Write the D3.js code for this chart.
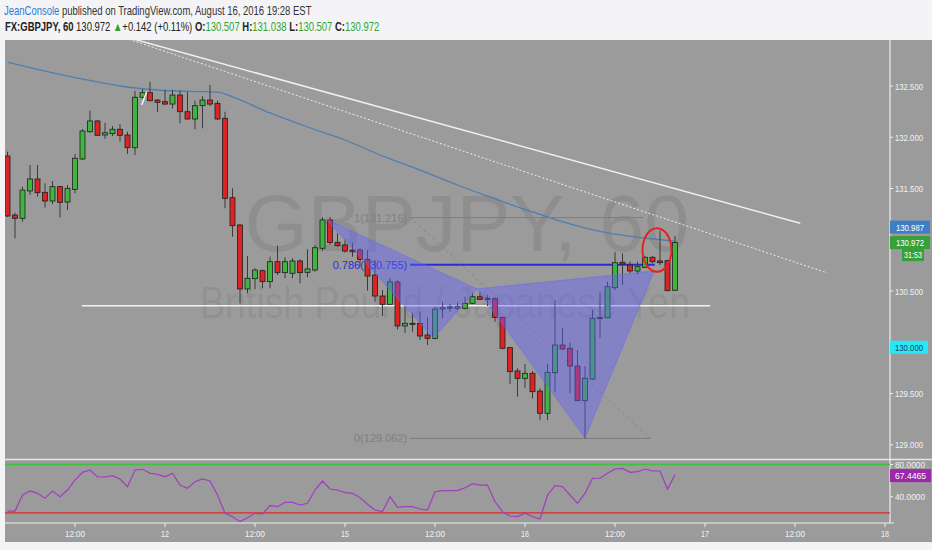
<!DOCTYPE html>
<html><head><meta charset="utf-8">
<script src="https://cdn.jsdelivr.net/npm/d3@7"></script>
<style>body{margin:0;background:#fff;} svg{display:block;font-family:"Liberation Sans",Arial,sans-serif;}</style>
</head><body><svg id="c" width="932" height="550"></svg>
<script>
// ---------- DATA ----------
const opens=[131.817,131.241,131.209,131.476,131.593,131.463,131.378,131.518,131.368,131.492,
131.788,132.054,132.159,132.022,132.035,132.078,132.022,131.898,132.390,132.435,
132.363,132.347,132.324,132.412,132.249,132.178,132.308,132.363,132.331,132.185,
131.410,131.144,130.520,130.620,130.698,130.591,130.786,130.679,130.673,130.793,
130.682,130.705,130.917,131.193,130.975,130.949,130.900,130.900,130.809,130.656,
130.451,130.370,130.588,130.159,130.185,130.185,130.071,130.038,130.324,130.334,
130.331,130.331,130.380,130.444,130.429,130.425,130.243,129.947,129.720,129.648,
129.697,129.524,129.307,129.703,129.973,129.941,129.768,129.430,129.641,130.230,
130.239,130.532,130.780,130.754,130.695,130.731,130.829,130.793,130.796,130.507];
const highs=[131.859,131.264,131.518,131.729,131.729,131.551,131.573,131.524,131.534,131.837,
132.080,132.259,132.168,132.142,132.110,132.126,132.054,132.454,132.468,132.542,
132.373,132.461,132.461,132.454,132.444,132.357,132.402,132.510,132.357,132.249,
131.502,131.154,130.841,130.721,130.710,130.835,130.942,130.829,130.819,130.809,
130.907,130.949,131.219,131.222,131.063,131.004,130.965,130.917,130.900,130.802,
130.510,130.624,130.607,130.347,130.288,130.298,130.243,130.347,130.396,130.373,
130.386,130.444,130.483,130.493,130.461,130.439,130.251,129.957,129.746,129.788,
129.720,129.551,129.788,130.412,130.136,129.996,129.924,129.768,130.315,130.493,
130.591,130.878,130.868,130.786,130.786,130.842,130.841,131.090,130.803,131.038];
const lows=[131.222,131.014,131.176,131.437,131.420,131.313,131.349,131.219,131.290,131.453,
131.778,132.044,132.012,131.986,132.012,131.957,131.837,131.827,132.380,132.349,
132.249,132.315,132.282,132.136,132.173,132.078,132.087,132.305,132.168,131.307,
131.030,130.380,130.478,130.517,130.526,130.526,130.656,130.624,130.624,130.575,
130.634,130.688,130.893,130.949,130.932,130.874,130.835,130.737,130.503,130.396,
130.256,130.368,130.126,130.093,130.103,130.022,129.973,130.029,130.234,130.298,
130.315,130.321,130.373,130.412,130.354,130.200,129.931,129.593,129.469,129.551,
129.453,129.241,129.241,129.518,129.924,129.502,129.427,129.062,129.632,130.038,
130.235,130.510,130.559,130.673,130.663,130.724,130.770,130.754,130.500,130.507];
const closes=[131.232,131.209,131.485,131.593,131.459,131.378,131.518,131.365,131.502,131.795,
132.061,132.159,132.019,132.044,132.078,132.019,131.898,132.390,132.435,132.357,
132.341,132.324,132.412,132.249,132.178,132.308,132.363,132.324,132.178,131.404,
131.137,130.520,130.624,130.705,130.591,130.786,130.679,130.786,130.793,130.679,
130.715,130.922,131.193,130.973,130.942,130.890,130.883,130.809,130.646,130.451,
130.370,130.588,130.159,130.185,130.175,130.061,130.038,130.324,130.337,130.344,
130.347,130.380,130.444,130.419,130.419,130.243,129.941,129.713,129.648,129.697,
129.518,129.307,129.707,129.973,129.934,129.768,129.430,129.648,130.234,130.243,
130.542,130.776,130.763,130.695,130.737,130.829,130.786,130.776,130.503,130.972];
// moving average (read at selected bars)
const maBars=[0,5,10,15,20,25,28,30,35,40,45,50,55,60,65,70,75,80,85,89];
const maVals=[132.734,132.646,132.568,132.500,132.461,132.446,132.441,132.393,132.237,132.100,
131.973,131.817,131.680,131.534,131.398,131.271,131.154,131.066,131.017,130.987];
// RSI per bar
const rsiVals=[22.2,22.2,42.1,47.1,44.2,38.0,47.1,40.0,48.3,60.7,
70.3,73.2,64.5,64.5,66.1,62.0,52.4,73.2,74.0,69.1,
67.8,64.8,69.1,54.5,50.4,58.6,62.0,59.5,42.1,19.4,
15.2,9.0,13.9,19.4,18.6,28.8,27.6,33.0,33.0,29.7,
31.8,48.3,59.5,49.6,48.3,45.0,44.2,38.8,30.6,23.5,
21.4,40.0,26.8,27.6,27.6,24.7,23.5,46.2,47.5,47.5,
47.5,51.2,56.2,54.5,54.5,33.8,21.4,16.0,15.2,19.4,
15.2,12.3,42.1,53.7,52.4,42.1,31.8,44.2,62.9,62.9,
69.1,74.4,75.2,70.3,71.1,74.4,71.9,71.9,49.6,67.45];
const rsiLevels=[80,20];
const rsiTicks=[80,40];
// axes
const timeTickBars=[9,21,33,45,57,69,81,93,105,117];
const timeTickLabels=["12:00","12","12:00","15","12:00","16","12:00","17","12:00","18"];
const priceTicks=[132.5,132.0,131.5,130.5,129.5,129.0];
// drawings (bar index, price)
const harmonicXAB=[[42.5,131.20],[56.8,130.04],[62.6,130.52]];
const harmonicBCD=[[62.6,130.52],[77.0,129.066],[86.2,130.695]];
const fibLevels=[131.216,130.755,129.062];
const fibLabels=["1(131.216)","0.786(130.755)","0(129.062)"];
const fibStartBar=53.7, fibEndBars=[84.7,86.3,85.7];
const supportLevel=130.357, supportBars=[9.9,93.7];
const trendSolid=[[16.3,132.968],[105.7,131.161]];
const trendDotted=[[15.67,132.968],[109.3,130.676]];
const tinyLine=[[17.9,132.315],[18.56,132.445]];
const circleCenter=[86.6,130.90];
const lastPrice=130.972, lastMA=130.987, lastRSI=67.4465, alertPrice=130.000;

// ---------- SCALES ----------
const svg=d3.select("#c");
const W=932,H=550, plotR=890, topY=40, paneSep=459.5, rsiBottom=523;
const x=d3.scaleLinear().domain([0,117]).range([7.5,885]);
const y=d3.scaleLinear().domain([129,132.5]).range([444.75,86]);
const yr=d3.scaleLinear().domain([20,80]).range([512.8,464.5]);
const BG="#9b9b9b";

svg.append("rect").attr("width",W).attr("height",H).attr("fill","#f4f4f6");
svg.append("rect").attr("x",5).attr("y",topY).attr("width",W-5).attr("height",542-topY).attr("fill",BG);

const defs=svg.append("defs");
defs.append("clipPath").attr("id","mainClip").append("rect").attr("x",5).attr("y",topY).attr("width",plotR-5).attr("height",paneSep-topY);
defs.append("clipPath").attr("id","rsiClip").append("rect").attr("x",5).attr("y",paneSep).attr("width",plotR-5).attr("height",rsiBottom-paneSep);

const main=svg.append("g").attr("clip-path","url(#mainClip)");

main.append("text").attr("x",467).attr("y",251).attr("text-anchor","middle")
  .attr("font-size",80).attr("fill","rgba(0,0,0,0.08)").attr("textLength",445).attr("lengthAdjust","spacingAndGlyphs")
  .text("GBPJPY, 60");
main.append("text").attr("x",445).attr("y",318).attr("text-anchor","middle")
  .attr("font-size",44).attr("fill","rgba(0,0,0,0.08)").attr("textLength",490).attr("lengthAdjust","spacingAndGlyphs")
  .text("British Pound / Japanese Yen");

main.append("path").datum(maBars.map((b,k)=>[b,maVals[k]]))
  .attr("d",d3.line().x(d=>x(d[0])).y(d=>y(d[1])).curve(d3.curveMonotoneX))
  .attr("fill","none").attr("stroke","#4f7fae").attr("stroke-width",1.3);

const fibColors=["#7d7d7d","#2b2bd8","#7d7d7d"];
fibLevels.forEach((lv,k)=>{
  main.append("line").attr("x1",x(fibStartBar)).attr("x2",x(fibEndBars[k])).attr("y1",y(lv)).attr("y2",y(lv))
    .attr("stroke",fibColors[k]).attr("stroke-width",k===1?2:1);
  main.append("text").attr("x",x(fibStartBar)-3).attr("y",y(lv)+4).attr("text-anchor","end")
    .attr("font-size",11).attr("fill",k===1?"#2b2bd8":"#808080").text(fibLabels[k]);
});
main.append("line").attr("x1",x(fibStartBar)).attr("y1",y(fibLevels[0])).attr("x2",x(fibEndBars[2])).attr("y2",y(fibLevels[2]))
  .attr("stroke","#858585").attr("stroke-width",1).attr("stroke-dasharray","3,3");

main.append("line").attr("x1",x(supportBars[0])).attr("x2",x(supportBars[1])).attr("y1",y(supportLevel)).attr("y2",y(supportLevel))
  .attr("stroke","#f2f2f2").attr("stroke-width",1.5);

const idx=d3.range(opens.length);
const GREEN="#3fb43f", RED="#dc2424";
main.append("g").selectAll("line").data(idx).join("line")
  .attr("x1",i=>x(i)).attr("x2",i=>x(i)).attr("y1",i=>y(highs[i])).attr("y2",i=>y(lows[i]))
  .attr("stroke","#3a3a3a").attr("stroke-width",1);
main.append("g").selectAll("rect").data(idx).join("rect")
  .attr("x",i=>x(i)-2.5).attr("width",5)
  .attr("y",i=>y(Math.max(opens[i],closes[i])))
  .attr("height",i=>Math.max(1,Math.abs(y(opens[i])-y(closes[i]))))
  .attr("fill",i=>closes[i]>=opens[i]?GREEN:RED).attr("stroke","#1e1e1e").attr("stroke-width",0.8);

const poly=d3.line().x(d=>x(d[0])).y(d=>y(d[1]));
[harmonicXAB,harmonicBCD].forEach(p=>{
  main.append("path").attr("d",poly(p)+"Z").attr("fill","rgba(95,95,255,0.42)").attr("stroke","rgba(110,110,230,0.6)").attr("stroke-width",1);
});

main.append("line").attr("x1",x(trendSolid[0][0])).attr("y1",y(trendSolid[0][1])).attr("x2",x(trendSolid[1][0])).attr("y2",y(trendSolid[1][1]))
  .attr("stroke","#f0f0f0").attr("stroke-width",1.5);
main.append("line").attr("x1",x(trendDotted[0][0])).attr("y1",y(trendDotted[0][1])).attr("x2",x(trendDotted[1][0])).attr("y2",y(trendDotted[1][1]))
  .attr("stroke","#ececec").attr("stroke-width",1).attr("stroke-dasharray","2,2");
main.append("line").attr("x1",x(tinyLine[0][0])).attr("y1",y(tinyLine[0][1])).attr("x2",x(tinyLine[1][0])).attr("y2",y(tinyLine[1][1]))
  .attr("stroke","#f4f4f4").attr("stroke-width",1.5);

main.append("ellipse").attr("cx",x(circleCenter[0])).attr("cy",y(circleCenter[1])).attr("rx",14.5).attr("ry",21.8)
  .attr("fill","none").attr("stroke","#e8201e").attr("stroke-width",2);

svg.append("line").attr("x1",5).attr("x2",W).attr("y1",paneSep).attr("y2",paneSep).attr("stroke","#e6e6e6").attr("stroke-width",1.5);
svg.append("line").attr("x1",plotR).attr("x2",plotR).attr("y1",topY).attr("y2",rsiBottom).attr("stroke","#eeeeee").attr("stroke-width",1.2);
svg.append("line").attr("x1",5).attr("x2",plotR+4).attr("y1",rsiBottom).attr("y2",rsiBottom).attr("stroke","#eeeeee").attr("stroke-width",1.2);

const rg=svg.append("g").attr("clip-path","url(#rsiClip)");
rg.append("line").attr("x1",5).attr("x2",plotR).attr("y1",yr(rsiLevels[0])).attr("y2",yr(rsiLevels[0])).attr("stroke","#3cc43c").attr("stroke-width",1.3);
rg.append("line").attr("x1",5).attr("x2",plotR).attr("y1",yr(rsiLevels[1])).attr("y2",yr(rsiLevels[1])).attr("stroke","#e02828").attr("stroke-width",1.3);
rg.append("path").datum(rsiVals).attr("d",d3.line().x((d,i)=>x(i)).y(d=>yr(d)))
  .attr("fill","none").attr("stroke","#a23cc0").attr("stroke-width",1.2);

const axG=svg.append("g").attr("font-size",9.5).attr("fill","#f2f2f2");
priceTicks.forEach(p=>{
  axG.append("line").attr("x1",plotR).attr("x2",plotR+3).attr("y1",y(p)).attr("y2",y(p)).attr("stroke","#eee");
  axG.append("text").attr("x",895).attr("y",y(p)+3.5).attr("textLength",28).attr("lengthAdjust","spacingAndGlyphs").text(d3.format(".3f")(p));
});
function tag(cy,txt,fill,col,x0,w,tl){
  svg.append("rect").attr("x",x0).attr("y",cy-6.5).attr("width",w).attr("height",13).attr("fill",fill);
  svg.append("text").attr("x",x0+w/2).attr("y",cy+3.5).attr("text-anchor","middle").attr("font-size",9.5).attr("fill",col)
    .attr("textLength",tl).attr("lengthAdjust","spacingAndGlyphs").text(txt);
}
tag(y(lastMA)-14,d3.format(".3f")(lastMA),"#3f7fc4","#fff",890,40,28);
tag(y(lastPrice),d3.format(".3f")(lastPrice),"#38a038","#fff",890,40,28);
tag(y(lastPrice)+12,"31:53","#38a038","#fff",902,22,18);
tag(y(alertPrice)+5,d3.format(".3f")(alertPrice),"#28e8f8","#1d3c5a",890,38,28);
rsiTicks.forEach(v=>{
  svg.append("line").attr("x1",plotR).attr("x2",plotR+3).attr("y1",yr(v)).attr("y2",yr(v)).attr("stroke","#eee");
  svg.append("text").attr("x",895).attr("y",yr(v)+3.5).attr("font-size",9.5).attr("fill","#f2f2f2")
    .attr("textLength",30).attr("lengthAdjust","spacingAndGlyphs").text(d3.format(".4f")(v));
});
tag(yr(lastRSI)+1,d3.format(".4f")(lastRSI),"#9a2aaa","#fff",890,41,31);

timeTickBars.forEach((b,k)=>{
  svg.append("line").attr("x1",x(b)).attr("x2",x(b)).attr("y1",rsiBottom).attr("y2",rsiBottom+4).attr("stroke","#eee");
  const t=timeTickLabels[k];
  svg.append("text").attr("x",x(b)).attr("y",537).attr("text-anchor","middle").attr("font-size",9.5).attr("fill","#f2f2f2")
    .attr("textLength",t.length>2?20:8).attr("lengthAdjust","spacingAndGlyphs").text(t);
});

// header (natural layout, then horizontally condensed to the reference widths)
function fitX(sel,x0,y0,w){
  const len=sel.node().getComputedTextLength();
  sel.attr("transform",`translate(${x0},${y0}) scale(${w/len},1)`);
}
const h1=svg.append("text").attr("font-size",12.5).attr("fill","#333");
h1.append("tspan").attr("fill","#2c7bd3").text("JeanConsole");
h1.append("tspan").text(" published on TradingView.com, August 16, 2016 19:28 EST");
fitX(h1,4,15,308);

const GV="#2fa52f";
const f3=d3.format(".3f");
const h2=svg.append("text").attr("font-size",12.5).attr("fill","#222");
h2.append("tspan").attr("font-weight","bold").text("FX:GBPJPY, 60 ");
h2.append("tspan").text(f3(lastPrice)+" ");
h2.append("tspan").attr("fill","#2f9e2f").text("▲");
h2.append("tspan").text("+0.142 (+0.11%) ");
h2.append("tspan").attr("font-weight","bold").text("O:");
h2.append("tspan").attr("fill",GV).text(f3(opens[89])+" ");
h2.append("tspan").attr("font-weight","bold").text("H:");
h2.append("tspan").attr("fill",GV).text(f3(highs[89])+" ");
h2.append("tspan").attr("font-weight","bold").text("L:");
h2.append("tspan").attr("fill",GV).text(f3(lows[89])+" ");
h2.append("tspan").attr("font-weight","bold").text("C:");
h2.append("tspan").attr("fill",GV).text(f3(closes[89]));
fitX(h2,5,31,375);
</script></body></html>
